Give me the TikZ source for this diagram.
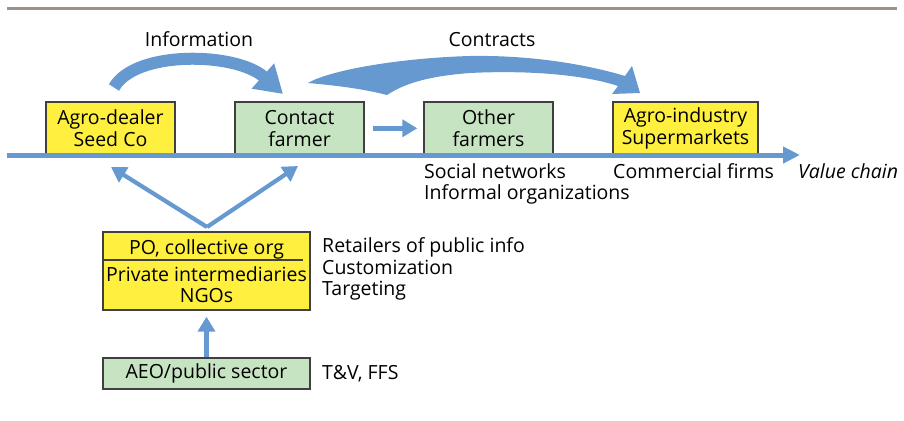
\documentclass[tikz,border=0pt]{standalone}
\usepackage{fontspec}
\setmainfont{Open Sans}
\usetikzlibrary{arrows.meta}
\definecolor{ablue}{RGB}{101,153,208}
\definecolor{ayellow}{RGB}{255,240,64}
\definecolor{agreen}{RGB}{199,228,194}
\definecolor{aborder}{RGB}{64,64,64}
\definecolor{arule}{RGB}{158,146,136}
\begin{document}
\begin{tikzpicture}[x=1pt,y=-1pt,
  every node/.style={font=\fontsize{19.5}{22.5}\selectfont, inner sep=0pt},
  box/.style={draw=aborder, line width=1.4pt, align=center, minimum width=129pt, minimum height=53pt},
  ybox/.style={box, fill=ayellow},
  gbox/.style={box, fill=agreen},
  lbl/.style={anchor=base west},
  flow/.style={ablue, line width=4.5pt, -{Triangle[width=17pt,length=15pt]}},
]
\useasboundingbox (0,0) rectangle (904,420);
% top rule
\coordinate (r1) at (7,8.5); \coordinate (r2) at (897,8.5);
\draw[arule, line width=3.5pt] (r1) -- (r2);
% boxes on the value chain
\node[ybox] (ad) at (110.5,128.3) {Agro-dealer\\Seed Co};
\node[gbox] (cf) at (299.5,128.3) {Contact\\farmer};
\node[gbox] (of) at (488.5,128.3) {Other\\farmers};
\node[ybox, minimum width=145pt] (ai) at (685.5,128.3) {Agro-industry\\Supermarkets};
% value chain axis
\coordinate (a0) at (7,155); \coordinate (a1) at (800,155);
\draw[ablue, line width=5pt, -{Triangle[width=16pt,length=17pt]}] (a0) -- (a1);
\node[lbl, font=\fontsize{19.5}{22.5}\selectfont\itshape] (vc) at (798,178) {Value chain};
% lower boxes
\node[ybox, minimum width=207pt, minimum height=78pt, font=\fontsize{19.5}{21}\selectfont] (po) at (206.5,271) {PO, collective org\\[6pt]Private intermediaries\\NGOs};
\coordinate (d1) at (104,260); \coordinate (d2) at (303,260);
\draw[aborder, line width=1.8pt] (d1) -- (d2);
\node[gbox, minimum width=207pt, minimum height=31pt] (aeo) at (206.5,373.5) {AEO/public sector};
% connectors
\draw[flow, line width=5pt] ([xshift=8pt]cf.east) -- ([xshift=-6pt]of.west);
\coordinate (v) at (207,227);
\coordinate (vl) at (111,167);
\coordinate (vr) at (298,166);
\draw[flow, line width=4.2pt] (v) -- (vl);
\draw[flow, line width=4.2pt] (v) -- (vr);
\draw[flow, line width=5pt] (aeo.north) -- ([yshift=-6pt]po.south);
% information arrow
\coordinate (i0) at (114,87.5);
\coordinate (i1) at (283,94);
\draw[ablue, line width=12pt, -{Triangle[width=32pt,length=27pt]}] (i0) .. controls (135,50) and (236,52) .. (i1);
\node[anchor=base] (info) at (199,47) {Information};
% contracts arrow
\fill[ablue] (308,83) .. controls (330,70) and (400,58) .. (470,56)
  .. controls (530,55) and (585,64) .. (625,76) -- (632,66) -- (640,93) -- (612,94) -- (618,86)
  .. controls (585,75) and (530,70) .. (470,73)
  .. controls (430,76) and (405,83) .. (387,95)
  .. controls (360,88) and (330,85) .. (308,83) -- cycle;
\node[anchor=base] (contr) at (492,47) {Contracts};
% side texts
\node[lbl] (sn) at (424,178) {Social networks};
\node[lbl] (io) at (424,199) {Informal organizations};
\node[lbl] (cm) at (613,178) {Commercial firms};
\node[lbl] (rp) at (322,252) {Retailers of public info};
\node[lbl] (cu) at (322,274) {Customization};
\node[lbl] (tg) at (322,295) {Targeting};
\node[lbl] (tv) at (322,379) {T\&V, FFS};
\end{tikzpicture}
\end{document}
